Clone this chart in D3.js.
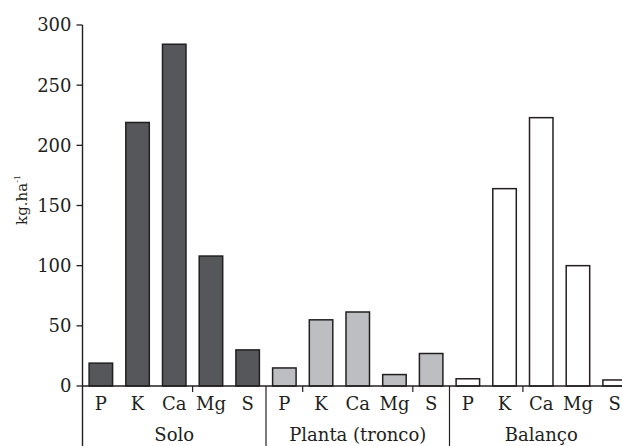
<!DOCTYPE html>
<html><head><meta charset="utf-8">
<script src="https://cdn.jsdelivr.net/npm/d3@7"></script>
<style>body{margin:0;background:#fff}svg{display:block}
.lbl{font-family:"DejaVu Serif","Liberation Serif",serif;fill:#231f20}
</style>
</head><body>
<svg id="c" width="622" height="446"></svg>
<script>
const elements = ["P","K","Ca","Mg","S"];
const groups = ["Solo","Planta (tronco)","Balanço"];
const solo = [19,219,284,108,30];
const planta = [15,55,61.5,9.5,27];
const balanco = [6,164,223,100,5];
const yTicks = [0,50,100,150,200,250,300];
const fills = ["#55575a","#bcbec1","#ffffff"];

const series = [solo, planta, balanco];
const data = [];
series.forEach((s,g)=>s.forEach((v,i)=>data.push({g, el:elements[i], v, idx:g*elements.length+i})));

const svg = d3.select("#c");
const ink = "#231f20";
const x0 = 82.5, step = 36.7, n = data.length;
const x = d3.scaleBand().domain(d3.range(n)).range([x0, x0+step*n]).paddingInner(0.36).paddingOuter(0.18);
const y = d3.scaleLinear().domain([0,300]).range([386,25]);
const H = 446;

// bars
svg.append("g").selectAll("rect").data(data).join("rect")
  .attr("x", d=>x(d.idx)).attr("width", x.bandwidth())
  .attr("y", d=>y(d.v)).attr("height", d=>y(0)-y(d.v))
  .attr("fill", d=>fills[d.g]).attr("stroke", ink).attr("stroke-width",1.5);

// y ticks + labels
svg.append("g").selectAll("line").data(yTicks).join("line")
  .attr("x1",x0-6).attr("x2",x0).attr("y1",d=>y(d)).attr("y2",d=>y(d))
  .attr("stroke",ink).attr("stroke-width",1.3);
svg.append("g").selectAll("text").data(yTicks).join("text").attr("class","lbl")
  .style("font-size","18px")
  .attr("x",x0-11).attr("y",d=>y(d)).attr("dy","0.36em")
  .attr("text-anchor","end")
  .text(d=>d);
svg.append("line").attr("x1",x0).attr("x2",x0).attr("y1",y(300)).attr("y2",H)
  .attr("stroke",ink).attr("stroke-width",1.4);
svg.append("line").attr("x1",x0).attr("x2",x0+step*n).attr("y1",y(0)).attr("y2",y(0))
  .attr("stroke",ink).attr("stroke-width",1.4);

// category ticks every 3 slots, group separators
const slotEdge = i => x0 + step*i;
svg.append("g").selectAll("line").data([3,6,9,12]).join("line")
  .attr("x1",slotEdge).attr("x2",slotEdge).attr("y1",y(0)).attr("y2",y(0)+6)
  .attr("stroke",ink).attr("stroke-width",1.2);
svg.append("g").selectAll("line").data([5,10,15]).join("line")
  .attr("x1",slotEdge).attr("x2",slotEdge).attr("y1",y(0)).attr("y2",H)
  .attr("stroke",ink).attr("stroke-width",1.2);

// category labels
svg.append("g").selectAll("text").data(data).join("text").attr("class","lbl")
  .style("font-size","18px")
  .attr("x", d=>x(d.idx)+x.bandwidth()/2).attr("y",410)
  .attr("text-anchor","middle")
  .text(d=>d.el);
// group labels
svg.append("g").selectAll("text").data(groups).join("text").attr("class","lbl")
  .style("font-size","18px")
  .attr("x",(d,i)=>slotEdge(i*5+2.5)).attr("y",441)
  .attr("text-anchor","middle")
  .text(d=>d);

// y label
const yl = svg.append("text").attr("class","lbl").style("font-size","15px")
  .attr("transform","translate(27,200) rotate(-90)")
  .attr("text-anchor","middle");
yl.append("tspan").text("kg.ha");
yl.append("tspan").attr("dy",-7).style("font-size","8px").text("-1");
</script>
</body></html>
